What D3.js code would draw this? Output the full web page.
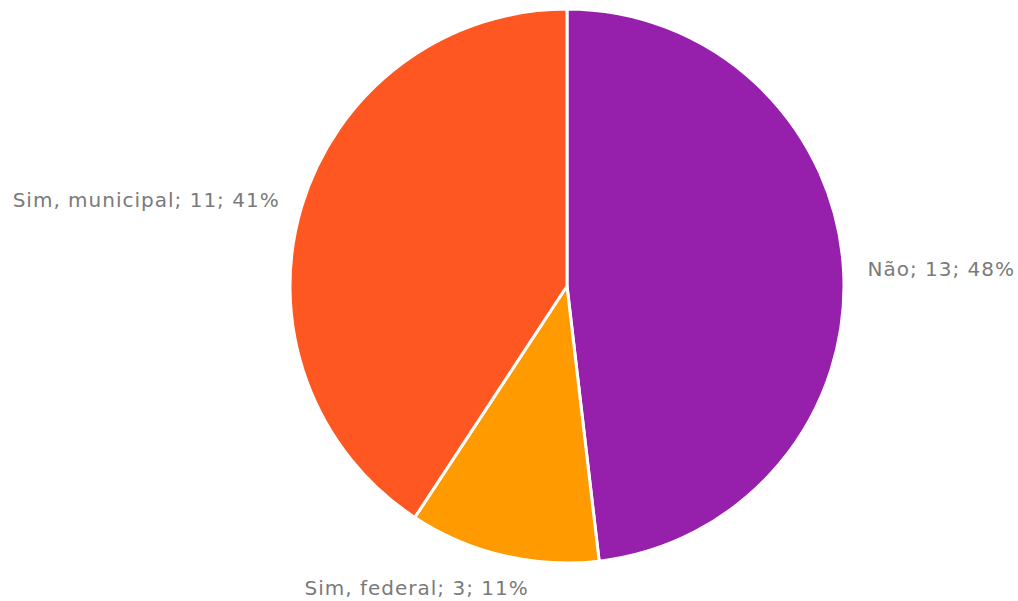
<!DOCTYPE html>
<html>
<head>
<meta charset="utf-8">
<script src="https://cdn.jsdelivr.net/npm/d3@7"></script>
<style>
  html, body { margin: 0; padding: 0; background: #ffffff; }
  svg { display: block; }
</style>
</head>
<body>
<svg id="chart" width="1018" height="601"></svg>
<script>
const categories = ["Não", "Sim, federal", "Sim, municipal"];
const values = [13, 3, 11];
const percentLabels = ["48%", "11%", "41%"];
const colors = ["#961FAC", "#FF9A00", "#FF5722"];

const width = 1018, height = 601;
const cx = 567, cy = 286, radius = 277;
const labelRadius = 301;

const svg = d3.select("#chart");
const g = svg.append("g").attr("transform", `translate(${cx},${cy})`);

const pie = d3.pie().sort(null).value(d => d.value);
const data = categories.map((c, i) => ({ name: c, value: values[i], pct: percentLabels[i], color: colors[i] }));
const arcs = pie(data);

const arc = d3.arc().innerRadius(0).outerRadius(radius);

g.selectAll("path.slice")
  .data(arcs)
  .join("path")
  .attr("class", "slice")
  .attr("d", arc)
  .attr("fill", d => d.data.color)
  .attr("stroke", "#ffffff")
  .attr("stroke-width", 3)
  .attr("stroke-linejoin", "round");

// label placement tweaks (Excel best-fit style)
const labelShift = [[0, 0], [-81, 9], [1, 0]];

g.selectAll("text.lbl")
  .data(arcs)
  .join("text")
  .attr("class", "lbl")
  .attr("x", (d, i) => {
    const mid = (d.startAngle + d.endAngle) / 2;
    return Math.sin(mid) * labelRadius + labelShift[i][0];
  })
  .attr("y", (d, i) => {
    const mid = (d.startAngle + d.endAngle) / 2;
    return -Math.cos(mid) * labelRadius + labelShift[i][1];
  })
  .attr("text-anchor", (d, i) => {
    const mid = (d.startAngle + d.endAngle) / 2;
    const s = Math.sin(mid);
    if (Math.abs(s) < 0.4) return "middle";
    return s > 0 ? "start" : "end";
  })
  .attr("dominant-baseline", "central")
  .attr("font-family", "'DejaVu Sans', sans-serif")
  .attr("font-size", 20)
  .attr("letter-spacing", 1)
  .attr("fill", "#7a7a7a")
  .text(d => `${d.data.name}; ${d.data.value}; ${d.data.pct}`);
</script>
</body>
</html>
